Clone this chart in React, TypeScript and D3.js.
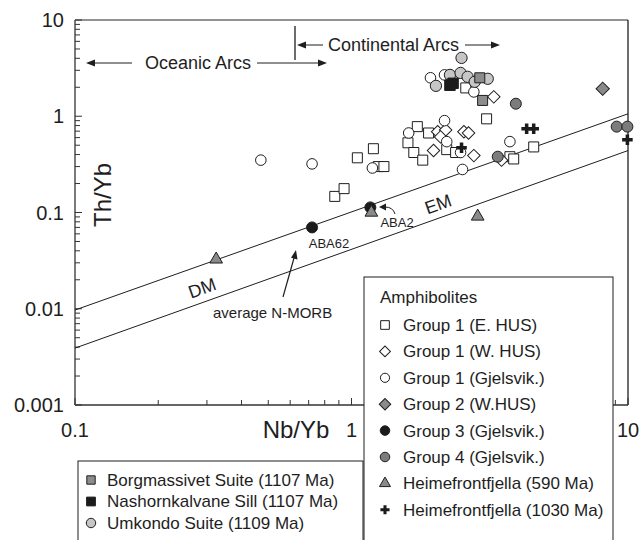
import React from "react";
import * as d3 from "d3";

// Th/Yb vs Nb/Yb discrimination plot
const W = 639;
const H = 540;
const FONT = "'Liberation Sans', Arial, Helvetica, sans-serif";

type Pt = [number, number];

// values (Nb/Yb, Th/Yb)
const group1EHus: Pt[] = [
  [0.87, 0.147], [0.94, 0.177], [1.05, 0.37], [1.2, 0.46], [1.25, 0.3], [1.31, 0.3],
  [1.6, 0.53], [1.73, 0.78], [1.9, 0.67], [1.68, 0.42], [1.81, 0.35], [2.21, 0.45],
  [2.38, 0.42], [2.59, 1.97], [3.08, 0.94], [3.74, 0.38], [3.86, 0.36], [4.56, 0.48],
];
const group1WHus: Pt[] = [
  [2.05, 0.69], [2.19, 0.72], [2.1, 0.61], [1.98, 0.44], [2.55, 0.69], [2.65, 0.67],
  [2.77, 0.39], [3.27, 1.59], [3.49, 0.35],
];
const group1Gjelsvik: Pt[] = [
  [0.47, 0.35], [0.72, 0.32], [1.19, 0.29], [1.61, 0.67], [2.17, 0.9], [2.21, 0.545],
  [2.48, 0.42], [2.52, 0.28], [3.74, 0.545], [1.93, 2.51], [2.17, 2.69], [2.77, 1.79],
];
const group2WHus: Pt[] = [[8.1, 1.93]];
const group3Gjelsvik: Pt[] = [[0.72, 0.07], [1.17, 0.113]];
const group4Gjelsvik: Pt[] = [[3.93, 1.35], [3.38, 0.38], [9.1, 0.78], [9.95, 0.78]];
const heime590: Pt[] = [[0.324, 0.0326], [1.18, 0.1], [2.86, 0.091]];
const heime1030: Pt[] = [[2.5, 0.47], [4.3, 0.74], [4.56, 0.74], [9.95, 0.57]];
const borgmassivet: Pt[] = [[2.91, 2.51], [2.98, 1.46]];
const nashornkalvane: Pt[] = [[2.27, 2.1], [2.33, 2.2]];
const umkondo: Pt[] = [
  [2.5, 4.04], [2.02, 2.07], [2.27, 2.69], [2.48, 2.82], [2.63, 2.57], [2.79, 2.28], [3.11, 2.45],
];

// MORB-OIB array boundaries
const arrayUpper: Pt[] = [[0.1, 0.0097], [10, 1.06]];
const arrayLower: Pt[] = [[0.1, 0.0039], [10, 0.44]];

const xTicks = [0.1, 1, 10];
const yTicks = [0.001, 0.01, 0.1, 1, 10];
const xTickLabels = ["0.1", "1", "10"];
const yTickLabels = ["0.001", "0.01", "0.1", "1", "10"];

const amphLegend = [
  "Group 1 (E. HUS)",
  "Group 1 (W. HUS)",
  "Group 1 (Gjelsvik.)",
  "Group 2 (W.HUS)",
  "Group 3 (Gjelsvik.)",
  "Group 4 (Gjelsvik.)",
  "Heimefrontfjella (590 Ma)",
  "Heimefrontfjella (1030 Ma)",
];
const suiteLegend = [
  "Borgmassivet Suite (1107 Ma)",
  "Nashornkalvane Sill (1107 Ma)",
  "Umkondo Suite (1109 Ma)",
];

type Sym = { shape: d3.SymbolType; size: number; fill: string; rot?: number; stroke?: string };

const S: Record<string, Sym> = {
  eHus: { shape: d3.symbolSquare, size: 100, fill: "#fff" },
  wHus: { shape: d3.symbolSquare, size: 78, fill: "#fff", rot: 45 },
  gj1: { shape: d3.symbolCircle, size: 88, fill: "#fff" },
  g2: { shape: d3.symbolSquare, size: 88, fill: "#8a8a8a", rot: 45 },
  g3: { shape: d3.symbolCircle, size: 95, fill: "#1b1b1b" },
  g4: { shape: d3.symbolCircle, size: 95, fill: "#7c7c7c" },
  h590: { shape: d3.symbolTriangle, size: 70, fill: "#8a8a8a" },
  h1030: { shape: d3.symbolCross, size: 62, fill: "#1b1b1b", stroke: "none" },
  borg: { shape: d3.symbolSquare, size: 100, fill: "#8c8c8c" },
  nash: { shape: d3.symbolSquare, size: 110, fill: "#1b1b1b" },
  umk: { shape: d3.symbolCircle, size: 100, fill: "#c6c6c6" },
};

const Marker = ({ x, y, s, scale = 1 }: { x: number; y: number; s: Sym; scale?: number }) => {
  const d = d3.symbol(s.shape, s.size * scale)() as string;
  return (
    <path
      d={d}
      transform={`translate(${x},${y})${s.rot ? ` rotate(${s.rot})` : ""}`}
      fill={s.fill}
      stroke={s.stroke ?? "#1e1e1e"}
      strokeWidth={1}
    />
  );
};

export default function App() {
  const x = d3.scaleLog().domain([0.1, 10]).range([75, 628]);
  const y = d3.scaleLog().domain([0.001, 10]).range([405, 20]);

  const series: [Pt[], Sym][] = [
    [group1EHus, S.eHus],
    [group1WHus, S.wHus],
    [group1Gjelsvik, S.gj1],
    [umkondo, S.umk],
    [nashornkalvane, S.nash],
    [borgmassivet, S.borg],
    [group4Gjelsvik, S.g4],
    [group2WHus, S.g2],
    [group3Gjelsvik, S.g3],
    [heime590, S.h590],
    [heime1030, S.h1030],
  ];

  const line = d3
    .line<Pt>()
    .x((d) => x(d[0]))
    .y((d) => y(d[1]));

  // minor ticks for log axes
  const minorX: number[] = [];
  for (const dec of [0.1, 1]) for (let k = 2; k <= 9; k++) minorX.push(dec * k);
  const minorY: number[] = [];
  for (const dec of [0.001, 0.01, 0.1, 1]) for (let k = 2; k <= 9; k++) minorY.push(dec * k);

  const slopeDeg =
    (Math.atan2(y(arrayUpper[1][1]) - y(arrayUpper[0][1]), x(arrayUpper[1][0]) - x(arrayUpper[0][0])) *
      180) /
    Math.PI;

  const ink = "#1e1e1e";
  const arrowHead = (tx: number, ty: number, dir: number) => (
    <path
      d={`M${tx},${ty} L${tx - dir * 9},${ty - 3.5} L${tx - dir * 9},${ty + 3.5} Z`}
      fill={ink}
    />
  );

  return (
    <svg
      width={W}
      height={H}
      style={{ position: "absolute", left: 0, top: 0, background: "#fff" }}
      fontFamily={FONT}
    >
      {/* frame */}
      <line x1={75} y1={20} x2={628} y2={20} stroke="#6e6e6e" strokeWidth={1.5} />
      <line x1={628} y1={20} x2={628} y2={405} stroke={ink} strokeWidth={1.3} />
      <line x1={75} y1={20} x2={75} y2={405} stroke="#333" strokeWidth={1.3} />
      <line x1={75} y1={405} x2={628} y2={405} stroke="#333" strokeWidth={1.3} />

      {/* ticks */}
      {yTicks.map((t) => (
        <line key={"ym" + t} x1={75} x2={82} y1={y(t)} y2={y(t)} stroke="#333" />
      ))}
      {minorY.map((t) => (
        <line key={"yn" + t} x1={75} x2={80} y1={y(t)} y2={y(t)} stroke="#333" />
      ))}
      {xTicks.map((t) => (
        <line key={"xm" + t} x1={x(t)} x2={x(t)} y1={405} y2={398} stroke="#333" />
      ))}
      {minorX.map((t) => (
        <line key={"xn" + t} x1={x(t)} x2={x(t)} y1={405} y2={400} stroke="#333" />
      ))}

      {/* tick labels */}
      {yTicks.map((t, i) => (
        <text key={"yl" + t} x={64} y={y(t)} dy="0.35em" textAnchor="end" fontSize={20} fill={ink}>
          {yTickLabels[i]}
        </text>
      ))}
      {xTicks.map((t, i) => (
        <text key={"xl" + t} x={x(t)} y={430} dy="0.35em" textAnchor="middle" fontSize={20} fill={ink}>
          {xTickLabels[i]}
        </text>
      ))}
      <text x={296} y={430} dy="0.35em" textAnchor="middle" fontSize={24} fill={ink}>
        Nb/Yb
      </text>
      <text
        transform="translate(103,195) rotate(-90)"
        textAnchor="middle"
        dy="0.35em"
        fontSize={24}
        fill={ink}
      >
        Th/Yb
      </text>

      {/* MORB-OIB array */}
      <path d={line(arrayUpper) as string} stroke={ink} strokeWidth={1} fill="none" />
      <path d={line(arrayLower) as string} stroke={ink} strokeWidth={1} fill="none" />
      <text
        transform={`translate(202,288) rotate(${slopeDeg})`}
        textAnchor="middle"
        dy="0.35em"
        fontSize={18}
        fill={ink}
      >
        DM
      </text>
      <text
        transform={`translate(438,204) rotate(${slopeDeg})`}
        textAnchor="middle"
        dy="0.35em"
        fontSize={18}
        fill={ink}
      >
        EM
      </text>

      {/* arc annotations */}
      <line x1={295} y1={26} x2={295} y2={60} stroke={ink} strokeWidth={1.3} />
      <line x1={88} y1={63} x2={132} y2={63} stroke={ink} />
      {arrowHead(86, 63, -1)}
      <text x={145} y={63} dy="0.35em" fontSize={18} fill={ink}>
        Oceanic Arcs
      </text>
      <line x1={257} y1={63} x2={320} y2={63} stroke={ink} />
      {arrowHead(327, 63, 1)}
      <line x1={303} y1={45} x2={323} y2={45} stroke={ink} />
      {arrowHead(297, 45, -1)}
      <text x={328} y={45} dy="0.35em" fontSize={18} fill={ink}>
        Continental Arcs
      </text>
      <line x1={465} y1={45} x2={493} y2={45} stroke={ink} />
      {arrowHead(500, 45, 1)}

      {/* data */}
      {series.map(([pts, s], si) =>
        pts.map((p, i) => <Marker key={si + "-" + i} x={x(p[0])} y={y(p[1])} s={s} />)
      )}

      {/* sample labels */}
      <text x={329} y={243} dy="0.35em" textAnchor="middle" fontSize={13} fill={ink}>
        ABA62
      </text>
      <text x={397} y={222} dy="0.35em" textAnchor="middle" fontSize={13} fill={ink}>
        ABA2
      </text>
      <path d="M395,214 Q393,207 385,207" fill="none" stroke={ink} strokeWidth={1} />
      <path d="M379,207 L386,203.5 L386,210.5 Z" fill={ink} />

      <text x={213} y={313} dy="0.35em" fontSize={15} fill={ink}>
        average N-MORB
      </text>
      <line x1={283} y1={297} x2={294} y2={258} stroke={ink} strokeWidth={1.2} />
      <path d="M296,250 L297.5,259.5 L291,257.7 Z" fill={ink} />

      {/* legend: amphibolites */}
      <rect x={364} y={277} width={249} height={280} fill="#fff" stroke={ink} strokeWidth={1} />
      <text x={380} y={297} dy="0.35em" fontSize={17} fill={ink}>
        Amphibolites
      </text>
      {amphLegend.map((label, i) => {
        const syms = [S.eHus, S.wHus, S.gj1, S.g2, S.g3, S.g4, S.h590, S.h1030];
        const ly = 325 + i * 26.4;
        return (
          <g key={label}>
            <Marker x={385} y={ly} s={syms[i]} scale={0.75} />
            <text x={403} y={ly} dy="0.35em" fontSize={17} fill={ink}>
              {label}
            </text>
          </g>
        );
      })}

      {/* legend: suites */}
      <rect x={78} y={461} width={285} height={100} fill="#fff" stroke={ink} strokeWidth={1} />
      {suiteLegend.map((label, i) => {
        const syms = [S.borg, S.nash, S.umk];
        const ly = 480 + i * 21.5;
        return (
          <g key={label}>
            <Marker x={91} y={ly} s={syms[i]} scale={0.7} />
            <text x={107} y={ly} dy="0.35em" fontSize={17} fill={ink}>
              {label}
            </text>
          </g>
        );
      })}
    </svg>
  );
}
